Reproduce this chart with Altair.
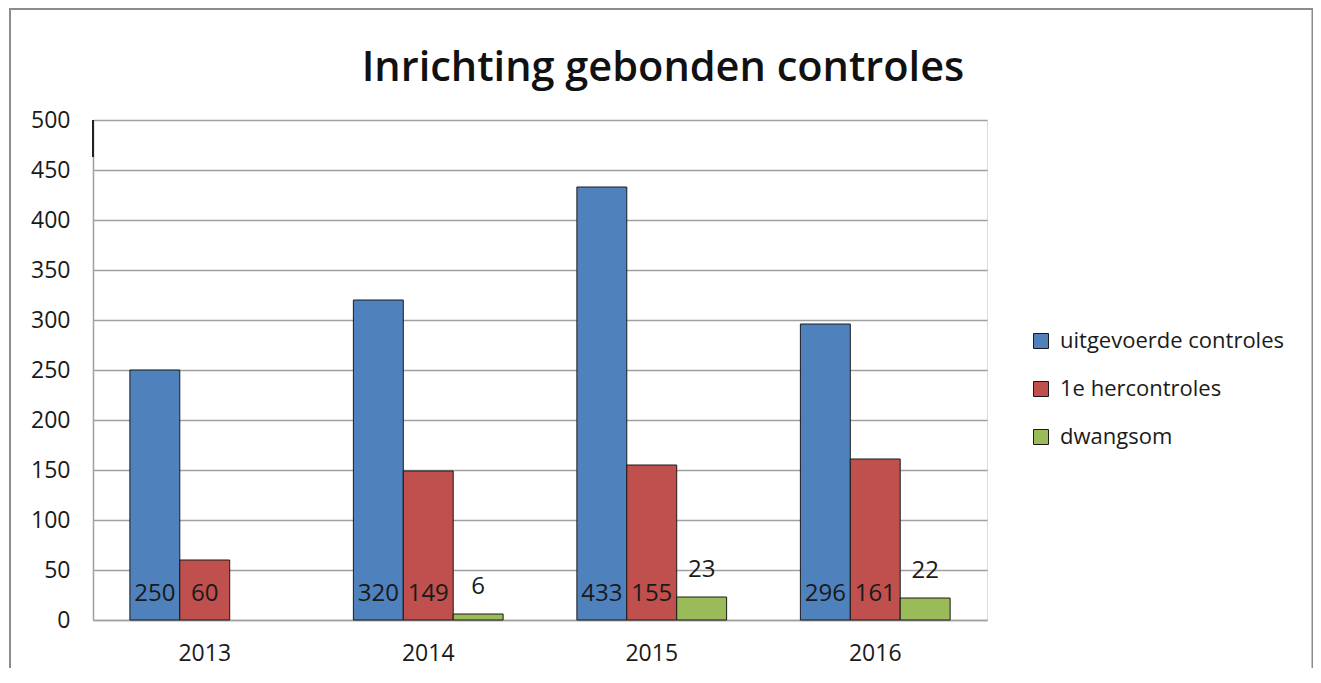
import altair as alt
import pandas as pd

years = ["2013", "2014", "2015", "2016"]
series = ["uitgevoerde controles", "1e hercontroles", "dwangsom"]
uitgevoerde = [250, 320, 433, 296]
hercontroles = [60, 149, 155, 161]
dwangsom = [None, 6, 23, 22]
colors = ["#4F81BD", "#C0504D", "#9BBB59"]
title_text = "Inrichting gebonden controles"

rows = []
for s, vals in zip(series, [uitgevoerde, hercontroles, dwangsom]):
    for y, v in zip(years, vals):
        rows.append({"jaar": y, "serie": s, "waarde": v})
df = pd.DataFrame(rows)

FONT = "Open Sans"

x_enc = alt.X("jaar:N", title=None, sort=years,
              scale=alt.Scale(paddingInner=0.33, paddingOuter=0.165),
              axis=alt.Axis(labelAngle=0, labelFontSize=23, labelFont=FONT,
                            labelColor="#1a1a1a", labelPadding=22, ticks=False,
                            domainColor="#a0a0a0", domainWidth=1.5, grid=False))
xo = alt.XOffset("serie:N", sort=series)
y_scale = alt.Scale(domain=[0, 500], nice=False)

base = alt.Chart(df)

bars = base.mark_bar(stroke="#1a1a1a", strokeWidth=1).encode(
    x=x_enc,
    xOffset=xo,
    y=alt.Y("waarde:Q", title=None, scale=y_scale,
            axis=alt.Axis(values=list(range(0, 501, 50)), labelFontSize=23,
                          labelFont=FONT, labelColor="#1a1a1a", labelPadding=23,
                          ticks=False, domainColor="#a0a0a0", domainWidth=1.5,
                          gridColor="#a0a0a0", gridWidth=1.5)),
    color=alt.Color("serie:N", sort=series,
                    scale=alt.Scale(domain=series, range=colors),
                    legend=alt.Legend(title=None, orient="none", legendX=937,
                                      legendY=210, symbolType="square",
                                      symbolSize=225, symbolStrokeColor="#1a1a1a",
                                      symbolStrokeWidth=1, symbolOpacity=1,
                                      labelFontSize=22, labelFont=FONT,
                                      labelColor="#1a1a1a", labelOffset=8,
                                      rowPadding=26, labelLimit=400)),
)

inside = base.transform_filter(
    alt.FieldOneOfPredicate(field="serie", oneOf=series[:2])
).mark_text(font=FONT, fontSize=24, color="#1a1a1a", baseline="middle", dy=-26).encode(
    x=alt.X("jaar:N", sort=years),
    xOffset=xo,
    y=alt.datum(0, scale=y_scale),
    text=alt.Text("waarde:Q", format="d"),
)

outside = base.transform_filter(
    (alt.datum.serie == series[2]) & alt.expr.isValid(alt.datum.waarde)
).mark_text(font=FONT, fontSize=24, color="#1a1a1a", baseline="middle", dy=-27).encode(
    x=alt.X("jaar:N", sort=years),
    xOffset=xo,
    y=alt.Y("waarde:Q"),
    text=alt.Text("waarde:Q", format="d"),
)

frame = alt.Chart(pd.DataFrame({"a": [0]})).mark_rect(
    fill=None, stroke="#8c8c8c", strokeWidth=2
).encode(x=alt.value(-83), x2=alt.value(1219.5), y=alt.value(-111), y2=alt.value(620))

stub = alt.Chart(pd.DataFrame({"a": [0]})).mark_rule(
    color="#222222", strokeWidth=2
).encode(x=alt.value(0), y=alt.value(0), y2=alt.value(37))

title = alt.Chart(pd.DataFrame({"t": [title_text]})).mark_text(
    font=FONT, fontSize=41.5, fontWeight=600, color="#111111",
    align="center", baseline="alphabetic"
).encode(x=alt.value(570), y=alt.value(-39), text="t:N")

chart = alt.layer(frame, bars, inside, outside, stub, title).properties(
    width=894, height=500,
    autosize=alt.AutoSizeParams(type="none"),
    padding={"left": 85, "top": 112, "right": 326, "bottom": 48},
).configure_view(stroke=None).configure(background="white")

chart.save("out.html", embed_options={"renderer": "svg", "actions": False})
